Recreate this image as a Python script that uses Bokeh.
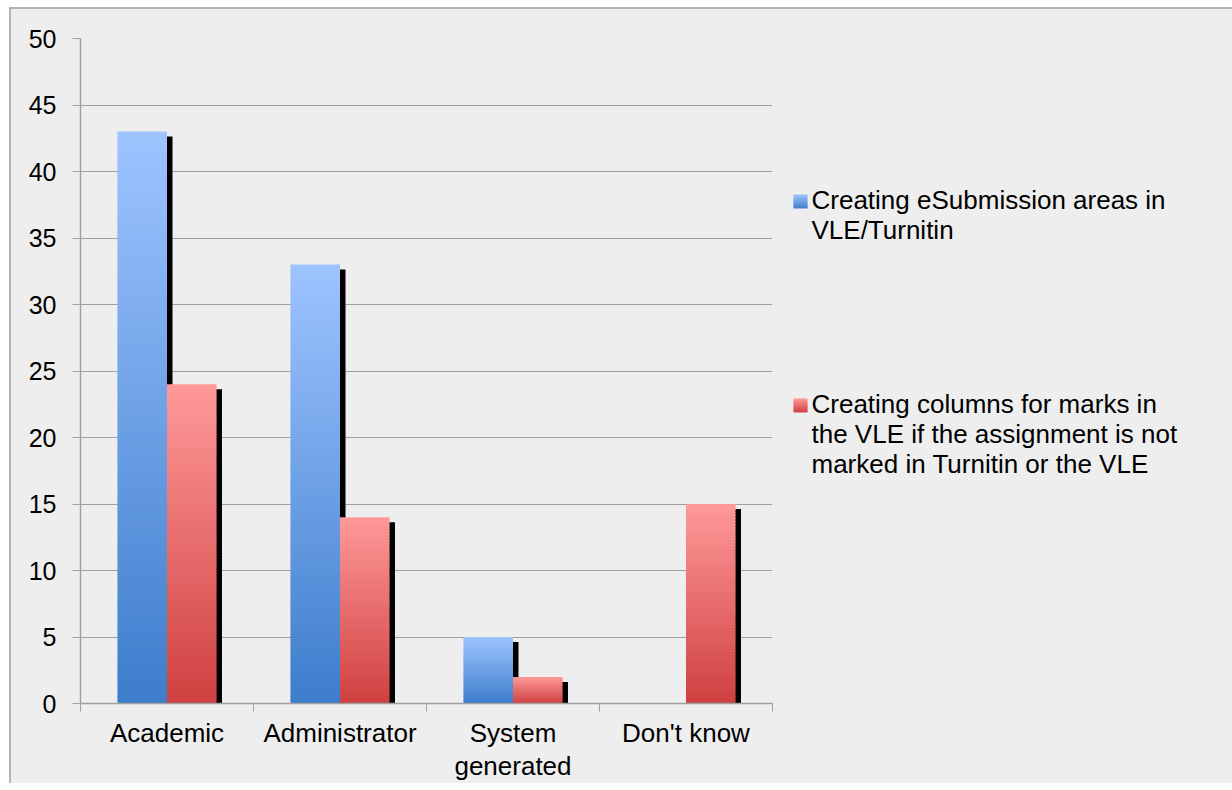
from bokeh.plotting import figure
from bokeh.layouts import row
from bokeh.models import Range1d, FixedTicker, ColumnDataSource
from bokeh.core.properties import value
from bokeh.embed import file_html
from bokeh.resources import INLINE

# ---------------- data ----------------
categories = ["Academic", "Administrator", "System\ngenerated", "Don't know"]
esubmission = [43, 33, 5, 0]
mark_columns = [24, 14, 2, 15]
y_ticks = [0, 5, 10, 15, 20, 25, 30, 35, 40, 45, 50]
legend_esub = ["Creating eSubmission areas in", "VLE/Turnitin"]
legend_cols = ["Creating columns for marks in", "the VLE if the assignment is not",
               "marked in Turnitin or the VLE"]

# ---------------- styles ----------------
BG = "#eeeeee"
GRID = "#a0a0a0"
FONT = "Liberation Sans"
BLUE_TOP, BLUE_BOT = (158, 196, 255), (61, 125, 204)
RED_TOP, RED_BOT = (255, 153, 153), (207, 64, 64)

FRAME_W, FRAME_H = 692, 665
B_LEFT, B_TOP, B_BOTTOM, B_RIGHT = 69, 29, 77, 10
PX_PER_UNIT = FRAME_H / 50.0


def lerp(a, b, f):
    return "#%02x%02x%02x" % tuple(int(round(a[k] + (b[k] - a[k]) * f)) for k in range(3))


p = figure(frame_width=FRAME_W, frame_height=FRAME_H,
           x_range=Range1d(0, len(categories)), y_range=Range1d(0, 50),
           output_backend="svg", toolbar_location=None,
           min_border_left=B_LEFT, min_border_right=B_RIGHT,
           min_border_top=B_TOP, min_border_bottom=B_BOTTOM)
p.background_fill_color = BG
p.border_fill_color = BG
p.outline_line_color = None

p.xgrid.visible = False
p.ygrid.ticker = FixedTicker(ticks=y_ticks)
p.ygrid.grid_line_color = GRID
p.ygrid.grid_line_width = 1.2

ya = p.yaxis[0]
ya.ticker = FixedTicker(ticks=y_ticks)
ya.axis_line_color = GRID
ya.axis_line_width = 1.5
ya.major_tick_line_color = GRID
ya.major_tick_out = 8
ya.major_tick_in = 0
ya.minor_tick_line_color = None
ya.major_label_standoff = 16
ya.major_label_text_font = FONT
ya.major_label_text_font_size = "25px"
ya.major_label_text_color = "black"

xa = p.xaxis[0]
centers = [i + 0.5 for i in range(len(categories))]
xa.ticker = FixedTicker(ticks=centers, minor_ticks=list(range(len(categories) + 1)))
xa.major_label_overrides = {c: lab for c, lab in zip(centers, categories)}
xa.axis_line_color = GRID
xa.axis_line_width = 1.5
xa.major_tick_line_color = None
xa.major_tick_out = 0
xa.major_tick_in = 0
xa.minor_tick_line_color = GRID
xa.minor_tick_out = 8
xa.minor_tick_in = 0
xa.major_label_standoff = 6
xa.major_label_text_font = FONT
xa.major_label_text_font_size = "26px"
xa.major_label_text_line_height = 1.1
xa.major_label_text_color = "black"

# ---------------- bars ----------------
BW = 0.286
SHX = 5.5 / (FRAME_W / len(categories))      # shadow offset, x units
SHY = 5.0 / PX_PER_UNIT                      # shadow offset, y units
STEP_PX = 3.0
OVER = 1.2 / PX_PER_UNIT

shadow = dict(left=[], right=[], top=[], bottom=[])
slices = dict(left=[], right=[], top=[], bottom=[], color=[])
for series, off, top_c, bot_c in ((esubmission, -BW / 2, BLUE_TOP, BLUE_BOT),
                                   (mark_columns, BW / 2, RED_TOP, RED_BOT)):
    for c, v in zip(centers, series):
        if v <= 0:
            continue
        l, r = c + off - BW / 2, c + off + BW / 2
        shadow["left"].append(l + SHX)
        shadow["right"].append(r + SHX)
        shadow["top"].append(v - SHY)
        shadow["bottom"].append(0)
        n = max(3, int(round(v * PX_PER_UNIT / STEP_PX)))
        for i in range(n):
            b = v * i / n
            t = min(v * (i + 1) / n + OVER, v)
            slices["left"].append(l)
            slices["right"].append(r)
            slices["bottom"].append(b)
            slices["top"].append(t)
            slices["color"].append(lerp(bot_c, top_c, (i + 0.5) / n))

p.quad(source=ColumnDataSource(shadow), left="left", right="right", top="top",
       bottom="bottom", fill_color="black", line_color=None)
p.quad(source=ColumnDataSource(slices), left="left", right="right", top="top",
       bottom="bottom", fill_color="color", line_color=None)

# ---------------- legend panel (pixel coords from frame top-left, y down) ----------------
LEG_W = 450
lg = figure(frame_width=LEG_W, frame_height=FRAME_H, x_range=Range1d(0, LEG_W),
            y_range=Range1d(FRAME_H, 0), output_backend="svg",
            toolbar_location=None, min_border_left=0, min_border_right=0,
            min_border_top=B_TOP, min_border_bottom=B_BOTTOM)
lg.axis.visible = False
lg.grid.visible = False
lg.background_fill_color = BG
lg.border_fill_color = BG
lg.outline_line_color = None

SQ_X, SQ = 11, 14
TXT_X = 29
LINE = 30
TXT_DY = 5
sq_src = dict(left=[], right=[], top=[], bottom=[], color=[])
txt_src = dict(x=[], y=[], text=[])
for lines, top_c, bot_c, sq_top in ((legend_esub, BLUE_TOP, BLUE_BOT, 156),
                                     (legend_cols, RED_TOP, RED_BOT, 360)):
    steps = 7
    for i in range(steps):
        sq_src["left"].append(SQ_X)
        sq_src["right"].append(SQ_X + SQ)
        sq_src["top"].append(sq_top + i * SQ / steps)
        sq_src["bottom"].append(min(sq_top + (i + 1.5) * SQ / steps, sq_top + SQ))
        sq_src["color"].append(lerp(top_c, bot_c, (i + 0.5) / steps))
    for k, txt in enumerate(lines):
        txt_src["x"].append(TXT_X)
        txt_src["y"].append(sq_top + TXT_DY + LINE * k)
        txt_src["text"].append(txt)

lg.quad(source=ColumnDataSource(sq_src), left="left", right="right", top="top",
        bottom="bottom", fill_color="color", line_color=None)
lg.text(source=ColumnDataSource(txt_src), x="x", y="y", text="text",
        text_font=value(FONT), text_font_size=value("26px"), text_color="black",
        text_align="left", text_baseline="alphabetic")

layout = row(p, lg, spacing=0)
layout.styles = {"margin-left": "9px", "margin-top": "7px", "background-color": BG,
                 "border-top": "2px solid #b4b4b4", "border-left": "2px solid #b4b4b4"}

open("out.html", "w").write(file_html(layout, INLINE))
